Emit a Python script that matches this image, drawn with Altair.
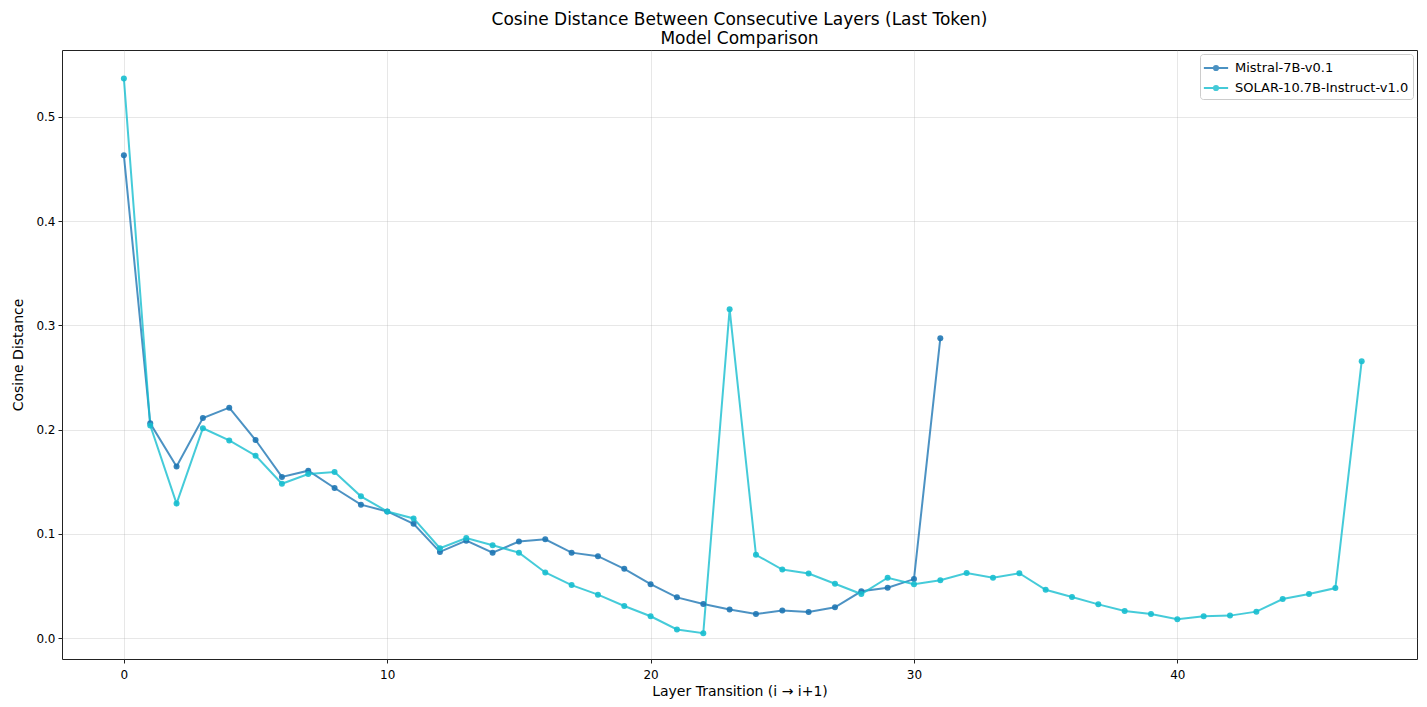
import altair as alt
import pandas as pd

mistral_name = "Mistral-7B-v0.1"
solar_name = "SOLAR-10.7B-Instruct-v1.0"

mistral_vals = [0.463, 0.206, 0.1645, 0.211, 0.221, 0.190, 0.1546, 0.1606, 0.144, 0.128,
                0.1215, 0.1097, 0.0827, 0.0935, 0.082, 0.0926, 0.0948, 0.082, 0.0786, 0.0665,
                0.0518, 0.0391, 0.0328, 0.0274, 0.0232, 0.0264, 0.0251, 0.0296, 0.0449, 0.0483,
                0.0566, 0.2875]
solar_vals = [0.5366, 0.204, 0.129, 0.2013, 0.1896, 0.175, 0.148, 0.1574, 0.1593, 0.136,
              0.1215, 0.1148, 0.0862, 0.096, 0.089, 0.082, 0.063, 0.0509, 0.0417, 0.0308,
              0.021, 0.0083, 0.0048, 0.3155, 0.0799, 0.0658, 0.062, 0.0522, 0.0423, 0.0579,
              0.0518, 0.0556, 0.0625, 0.0579, 0.0623, 0.0464, 0.0394, 0.0324, 0.0261, 0.0232,
              0.0181, 0.021, 0.0216, 0.0254, 0.0375, 0.0423, 0.048, 0.2656]

x_ticks = [0, 10, 20, 30, 40]
y_ticks = [0.0, 0.1, 0.2, 0.3, 0.4, 0.5]

rows = []
for i, v in enumerate(mistral_vals):
    rows.append({"layer": i, "dist": v, "model": mistral_name})
for i, v in enumerate(solar_vals):
    rows.append({"layer": i, "dist": v, "model": solar_name})
df = pd.DataFrame(rows)

color = alt.Color(
    "model:N",
    scale=alt.Scale(domain=[mistral_name, solar_name], range=["#1f77b4", "#17becf"]),
    sort=[mistral_name, solar_name],
    legend=alt.Legend(
        title=None,
        orient="top-right",
        offset=4,
        symbolType="M-1.4,0H1.4M0.24,0A0.24,0.24 0 1,1 -0.24,0A0.24,0.24 0 1,1 0.24,0Z",
        symbolSize=300,
        symbolStrokeWidth=2,
        labelFontSize=13,
        labelFont="DejaVu Sans",
        labelColor="#000",
        labelLimit=400,
        fillColor="#ffffff",
        strokeColor="#cccccc",
        padding=4,
        cornerRadius=3,
        rowPadding=3,
        symbolOffset=2,
        labelOffset=9,
    ),
)

x = alt.X(
    "layer:Q",
    scale=alt.Scale(domain=[-2.35, 49.1], nice=False, zero=False),
    axis=alt.Axis(values=x_ticks, title="Layer Transition (i → i+1)", format="d"),
)
y = alt.Y(
    "dist:Q",
    scale=alt.Scale(domain=[-0.02, 0.564], nice=False, zero=False),
    axis=alt.Axis(values=y_ticks, title="Cosine Distance", format=".1f"),
)

base = alt.Chart(df).encode(x=x, y=y, color=color, order="layer:Q")
lines = base.mark_line(strokeWidth=2, opacity=0.8)
points = base.mark_point(filled=True, size=36, opacity=0.9)

chart = (
    alt.layer(lines, points)
    .properties(
        width=1355,
        height=609,
        title=alt.TitleParams(
            text=["Cosine Distance Between Consecutive Layers (Last Token)", "Model Comparison"],
            anchor="middle",
            fontSize=17,
            font="DejaVu Sans",
            fontWeight="normal",
            color="#000",
            lineHeight=19,
            offset=2,
        ),
        autosize=alt.AutoSizeParams(type="none"),
        padding={"left": 54, "top": 42, "right": 2, "bottom": 40},
    )
    .configure_view(stroke="#222", strokeWidth=1)
    .configure_axis(
        domain=False,
        grid=True,
        gridColor="#b0b0b0",
        gridOpacity=0.3,
        gridWidth=1,
        tickColor="#222",
        tickSize=4,
        labelFont="DejaVu Sans",
        labelFontSize=12,
        labelColor="#000",
        titleFont="DejaVu Sans",
        titleFontSize=14,
        titleFontWeight="normal",
        titleColor="#000",
        labelPadding=3,
    )
    .configure_axisY(titlePadding=10)
    .configure_axisX(titlePadding=4, labelPadding=6)
)

chart.save("out.html", embed_options={"renderer": "svg", "actions": False})
